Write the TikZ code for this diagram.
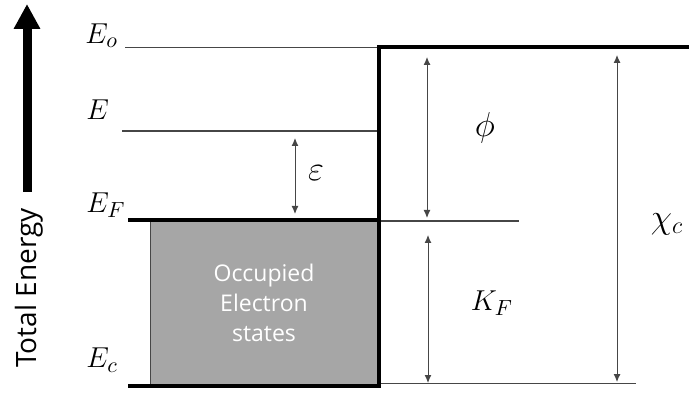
\documentclass[tikz,border=0pt]{standalone}
\usepackage{fontspec}
\setsansfont{Open Sans}
\usetikzlibrary{arrows.meta}
\definecolor{boxgray}{RGB}{166,166,166}
\definecolor{linegray}{RGB}{70,70,70}
\tikzset{
  level/.style={line width=2pt},
  thinlevel/.style={linegray, line width=0.6pt},
  gap/.style={{Latex[length=4pt,width=3.5pt]}-{Latex[length=4pt,width=3.5pt]},
    linegray, line width=0.5pt},
  sym/.style={font=\fontsize{15}{17}\selectfont, inner sep=0pt},
  greek/.style={font=\fontsize{18}{20}\selectfont, inner sep=0pt},
}
\begin{document}
\begin{tikzpicture}[x=0.5pt, y=-0.5pt]
  \useasboundingbox (0,0) rectangle (689,394);
  % energy axis
  \coordinate (axisBot) at (27,192);
  \coordinate (axisTop) at (27,4);
  \draw[line width=4.5pt, -{Triangle[width=12.5pt,length=12.5pt]}] (axisBot) -- (axisTop);
  \node[rotate=90, font=\sffamily\fontsize{14}{16}\selectfont] (axisLbl)
    at (29,288) {Total Energy};
  % occupied states
  \draw[draw=linegray, fill=boxgray, line width=0.5pt] (150,220) rectangle (379,386);
  \node[white, align=center, font=\sffamily\fontsize{11.5}{15}\selectfont] (occLbl)
    at (264,303) {Occupied\\Electron\\states};
  % levels
  \draw[thinlevel] (125,47.5) -- (379,47.5);
  \draw[thinlevel] (122,131) -- (379,131);
  \draw[thinlevel] (379,221) -- (519,221);
  \draw[thinlevel] (379,383.5) -- (636,383.5);
  \draw[level] (128,220) -- (380,220);
  \draw[level, line join=miter] (128,386) -- (379,386) -- (379,47) -- (689,47);
  \node[sym, anchor=west] (lblEo) at (85,36) {$E_o$};
  \node[sym, anchor=west] (lblE) at (86,110) {$E$};
  \node[sym, anchor=west] (lblEF) at (86,205) {$E_F$};
  \node[sym, anchor=west] (lblEc) at (86,360) {$E_c$};
  % gaps between levels
  \foreach \nm/\x/\ya/\yb/\lx/\ly/\st/\txt in {eps/295/138/214/316/173/greek/\varepsilon,
      phi/427/57/218/485/128/greek/\phi, kf/428/235/383/492/303/sym/K_F,
      chi/617/55/382/667/224/greek/\chi_c}{
    \coordinate (\nm T) at (\x,\ya);
    \coordinate (\nm B) at (\x,\yb);
    \draw[gap] (\nm T) -- (\nm B);
    \node[\st] (\nm Lbl) at (\lx,\ly) {$\txt$};
  }
\end{tikzpicture}
\end{document}
